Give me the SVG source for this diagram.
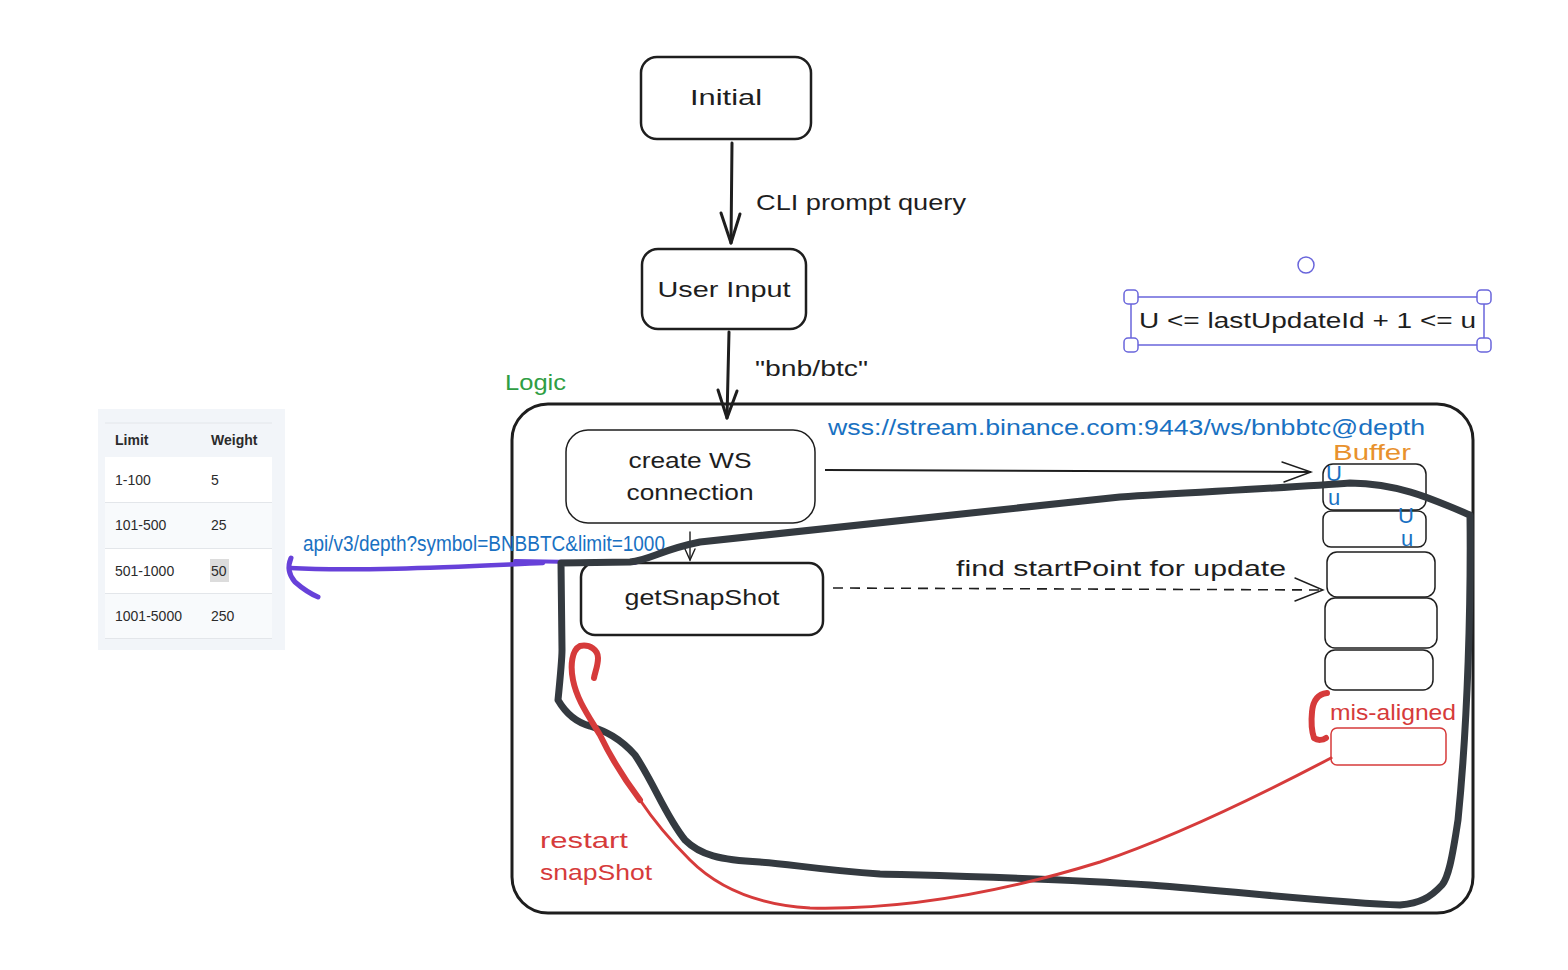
<svg xmlns="http://www.w3.org/2000/svg" width="1568" height="970" viewBox="0 0 1568 970">
<defs>
<style>
.hand{font-family:"Liberation Sans","DejaVu Sans",sans-serif;font-size:22px;fill:#1e1e1e}
.box{fill:none;stroke:#1e1e1e;stroke-width:2.5}
.cell{fill:none;stroke:#1e1e1e;stroke-width:1.5}
.edge{fill:none;stroke:#1e1e1e;stroke-width:3;stroke-linecap:round;stroke-linejoin:round}
.thin{fill:none;stroke:#1e1e1e;stroke-width:1.4;stroke-linecap:round}
.blue{fill:#1971c2}
.red{fill:#d63b3b}
.tbl{font-family:"Liberation Sans","Inter",sans-serif;font-size:14px;fill:#2b2b2b}
.handle{fill:#fff;stroke:#6965db;stroke-width:1.5}
</style>
</defs>
<rect width="1568" height="970" fill="#ffffff"/>

<g id="table">
<rect x="98" y="409" width="187" height="241" fill="#f2f5f9"/>
<line x1="105" y1="423" x2="272" y2="423" stroke="#e3e6ea"/>
<rect x="105" y="457" width="167" height="45" fill="#ffffff"/>
<rect x="105" y="503" width="167" height="45" fill="#f8fafc"/>
<rect x="105" y="549" width="167" height="44" fill="#ffffff"/>
<rect x="105" y="594" width="167" height="44" fill="#f8fafc"/>
<line x1="105" y1="502.5" x2="272" y2="502.5" stroke="#e3e6ea"/>
<line x1="105" y1="548.5" x2="272" y2="548.5" stroke="#e3e6ea"/>
<line x1="105" y1="593.5" x2="272" y2="593.5" stroke="#e3e6ea"/>
<line x1="105" y1="638.5" x2="272" y2="638.5" stroke="#e3e6ea"/>
<text class="tbl" x="115" y="445" font-weight="bold">Limit</text>
<text class="tbl" x="211" y="445" font-weight="bold">Weight</text>
<text class="tbl" x="115" y="485">1-100</text>
<text class="tbl" x="211" y="485">5</text>
<text class="tbl" x="115" y="530">101-500</text>
<text class="tbl" x="211" y="530">25</text>
<rect x="210" y="559" width="19" height="23" fill="#dcdcdc"/>
<text class="tbl" x="115" y="576">501-1000</text>
<text class="tbl" x="211" y="576">50</text>
<text class="tbl" x="115" y="621">1001-5000</text>
<text class="tbl" x="211" y="621">250</text>
</g>

<g id="logic">
<rect x="512" y="404" width="961" height="509" rx="36" fill="none" stroke="#1e1e1e" stroke-width="3"/>
<text class="hand" x="505" y="390" style="fill:#2f9e44" font-size="21" textLength="61" lengthAdjust="spacingAndGlyphs">Logic</text>
</g>

<g id="initial">
<rect x="641" y="57" width="170" height="82" rx="16" class="box"/>
<text class="hand" x="726" y="105" text-anchor="middle" font-size="24" textLength="72" lengthAdjust="spacingAndGlyphs">Initial</text>
</g>

<g id="user-input">
<rect x="642" y="249" width="164" height="80" rx="16" class="box"/>
<text class="hand" x="724" y="297" text-anchor="middle" font-size="24" textLength="133" lengthAdjust="spacingAndGlyphs">User Input</text>
</g>

<g id="create-ws">
<rect x="566" y="430" width="249" height="93" rx="22" class="cell"/>
<text class="hand" x="690" y="468" text-anchor="middle" textLength="123" lengthAdjust="spacingAndGlyphs">create WS</text>
<text class="hand" x="690" y="500" text-anchor="middle" textLength="127" lengthAdjust="spacingAndGlyphs">connection</text>
</g>

<g id="getsnapshot">
<rect x="581" y="563" width="242" height="72" rx="14" class="box"/>
<text class="hand" x="702" y="605" text-anchor="middle" font-size="24" textLength="155" lengthAdjust="spacingAndGlyphs">getSnapShot</text>
</g>

<g id="buffer">
<text class="hand" x="1333" y="460" font-size="22" style="fill:#e8912d" textLength="78" lengthAdjust="spacingAndGlyphs">Buffer</text>
<rect x="1323" y="464" width="103" height="46" rx="10" class="cell"/>
<rect x="1323" y="511" width="103" height="36" rx="8" class="cell"/>
<rect x="1327" y="552" width="108" height="45" rx="10" class="cell"/>
<rect x="1325" y="598" width="112" height="50" rx="10" class="cell"/>
<rect x="1325" y="650" width="108" height="40" rx="10" class="cell"/>
<text class="hand blue" x="1326" y="481" font-size="17">U</text>
<text class="hand blue" x="1328" y="505" font-size="16">u</text>
<text class="hand blue" x="1398" y="523" font-size="14">U</text>
<text class="hand blue" x="1401" y="546" font-size="13">u</text>
</g>

<g id="misaligned">
<rect x="1331" y="728" width="115" height="37" rx="6" fill="none" stroke="#d63b3b" stroke-width="1.5"/>
<text class="hand red" x="1330" y="720" textLength="126" lengthAdjust="spacingAndGlyphs">mis-aligned</text>
</g>

<g id="condition">
<rect x="1131" y="297" width="353" height="48" fill="none" stroke="#6965db" stroke-width="1.5"/>
<rect x="1124" y="290" width="14" height="14" rx="4" class="handle"/>
<rect x="1477" y="290" width="14" height="14" rx="4" class="handle"/>
<rect x="1124" y="338" width="14" height="14" rx="4" class="handle"/>
<rect x="1477" y="338" width="14" height="14" rx="4" class="handle"/>
<circle cx="1306" cy="265" r="8" class="handle"/>
<text class="hand" x="1139" y="328" textLength="337" lengthAdjust="spacingAndGlyphs">U &lt;= lastUpdateId + 1 &lt;= u</text>
</g>

<g id="connectors">
<path class="edge" d="M732 143 L731 243"/>
<path class="edge" d="M721 213 L731 243 L740 214"/>
<text class="hand" x="756" y="210" textLength="210" lengthAdjust="spacingAndGlyphs">CLI prompt query</text>
<path class="edge" d="M729 332 L727 418"/>
<path class="edge" d="M718 390 L727 418 L737 391"/>
<text class="hand" x="755" y="376" textLength="113" lengthAdjust="spacingAndGlyphs">"bnb/btc"</text>
<path class="thin" d="M690 532 L690 560"/>
<path class="thin" d="M685 549 L690 560 L695 549"/>
<path fill="none" stroke="#1e1e1e" stroke-width="2" d="M825 470 L1311 472"/>
<path class="thin" d="M1282 462 L1311 472 L1284 482"/>
<text class="hand blue" x="828" y="435" textLength="597" lengthAdjust="spacingAndGlyphs">wss://stream.binance.com:9443/ws/bnbbtc@depth</text>
<path fill="none" stroke="#1e1e1e" stroke-width="1.6" stroke-dasharray="10 7" d="M833 588 L1322 590"/>
<path class="thin" d="M1295 578 L1323 590 L1295 601"/>
<text class="hand" x="956" y="576" textLength="330" lengthAdjust="spacingAndGlyphs">find startPoint for update</text>
<path fill="none" stroke="#6741d9" stroke-width="4" stroke-linecap="round" d="M515 561 L635 563"/>
<path fill="none" stroke="#6741d9" stroke-width="4.5" stroke-linecap="round" stroke-linejoin="round" d="M543 563 C470 566 360 572 290 568"/>
<path fill="none" stroke="#6741d9" stroke-width="5" stroke-linecap="round" stroke-linejoin="round" d="M291 558 C288 565 288 574 295 582 C303 589 311 594 318 597"/>
<text class="hand blue" x="303" y="551" font-size="17" textLength="362" lengthAdjust="spacingAndGlyphs">api/v3/depth?symbol=BNBBTC&amp;limit=1000</text>
<path fill="none" stroke="#343a40" stroke-width="7" stroke-linecap="round" stroke-linejoin="round" d="M562 650 L561 563 L630 562 C650 560 660 550 700 542 C800 530 950 515 1120 497 C1200 492 1300 487 1350 483 C1400 484 1430 498 1470 515 C1471 600 1468 720 1458 820 C1452 860 1448 878 1442 885 C1430 898 1420 903 1400 905 C1340 903 1250 893 1150 885 C1050 878 950 876 880 874 C820 870 790 864 760 862 C720 860 700 855 685 840 C665 815 655 785 635 755 C620 738 605 731 590 726 C575 722 565 712 558 700 C560 680 562 660 562 650"/>
<path fill="none" stroke="#d63b3b" stroke-width="3" stroke-linecap="round" stroke-linejoin="round" d="M1331 758 C1270 790 1180 835 1100 862 C1000 893 900 910 810 908 C760 905 720 890 690 860 C665 835 650 815 640 800"/>
<path fill="none" stroke="#d63b3b" stroke-width="6" stroke-linecap="round" stroke-linejoin="round" d="M640 800 C625 780 612 760 600 735 C588 715 577 700 573 680 C570 665 572 650 580 646 C590 644 598 650 598 658 C598 666 595 672 594 678"/>
<text class="hand red" x="540" y="848" textLength="88" lengthAdjust="spacingAndGlyphs">restart</text>
<text class="hand red" x="540" y="880" textLength="112" lengthAdjust="spacingAndGlyphs">snapShot</text>
<path fill="none" stroke="#d63b3b" stroke-width="6" stroke-linecap="round" stroke-linejoin="round" d="M1327 693 C1318 694 1313 700 1312 712 C1311 722 1312 732 1314 738 C1318 741 1323 740 1326 738"/>
</g>
</svg>
